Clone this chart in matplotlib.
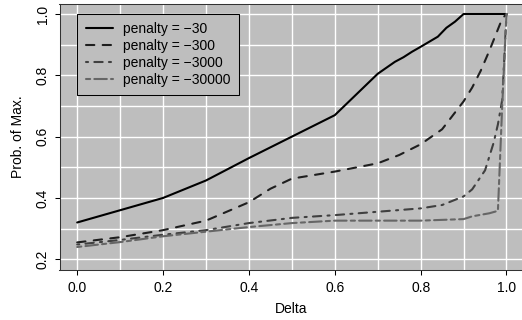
import numpy as np
import matplotlib
matplotlib.use("Agg")
import matplotlib.pyplot as plt

plt.rcParams['font.family'] = ['Liberation Sans', 'DejaVu Sans']
plt.rcParams['font.size'] = 10

# data
delta_1 = [0.0, 0.1, 0.2, 0.3, 0.4, 0.5, 0.6, 0.7, 0.74, 0.76, 0.78, 0.8, 0.84, 0.86, 0.88, 0.9, 1.0]
prob_1 = [0.32, 0.36, 0.40, 0.457, 0.53, 0.60, 0.67, 0.805, 0.844, 0.859, 0.877, 0.893, 0.926, 0.955, 0.975, 1.0, 1.0]

delta_2 = [0.0, 0.1, 0.2, 0.3, 0.4, 0.45, 0.5, 0.6, 0.7, 0.75, 0.8, 0.85, 0.9, 0.92, 0.94, 0.96, 0.98, 0.99, 1.0]
prob_2 = [0.255, 0.272, 0.295, 0.326, 0.386, 0.43, 0.463, 0.486, 0.513, 0.54, 0.575, 0.624, 0.715, 0.76, 0.815, 0.88, 0.95, 0.985, 1.0]

delta_3 = [0.0, 0.1, 0.2, 0.3, 0.4, 0.5, 0.6, 0.7, 0.8, 0.85, 0.9, 0.92, 0.95, 0.97, 0.98, 0.99, 1.0]
prob_3 = [0.248, 0.263, 0.28, 0.295, 0.318, 0.335, 0.344, 0.355, 0.366, 0.377, 0.405, 0.428, 0.49, 0.58, 0.64, 0.72, 1.0]

delta_4 = [0.0, 0.1, 0.2, 0.3, 0.4, 0.5, 0.6, 0.7, 0.8, 0.9, 0.92, 0.96, 0.98, 0.99, 1.0]
prob_4 = [0.24, 0.256, 0.275, 0.29, 0.305, 0.318, 0.326, 0.326, 0.326, 0.331, 0.34, 0.35, 0.358, 0.70, 1.0]

labels = ['penalty = \u221230', 'penalty = \u2212300', 'penalty = \u22123000', 'penalty = \u221230000']
colors = ['#000000', '#1e1e1e', '#404040', '#666666']
dashes = [None, (4, 4), (1, 3, 4, 3), (2, 2, 6, 2)]

fig = plt.figure(figsize=(5.22, 3.2), dpi=100)
W, H = 522.0, 320.0
ax = fig.add_axes([59.5 / W, (H - 270) / H, (523.2 - 59.5) / W, (270 - 4.2) / H])
ax.set_facecolor('#BEBEBE')

series = [(delta_1, prob_1), (delta_2, prob_2), (delta_3, prob_3), (delta_4, prob_4)]
for (x, y), lab, c, d in zip(series, labels, colors, dashes):
    line, = ax.plot(x, y, color=c, lw=1.5, label=lab,
                    solid_capstyle='round', dash_capstyle='round')
    if d is not None:
        line.set_dashes(d)

ax.set_xlim(-0.0412, 1.0389)
ax.set_ylim(0.165, 1.032)
ax.set_xticks(np.arange(0, 1.01, 0.2))
ax.set_xticks(np.arange(0, 1.01, 0.1), minor=True)
ax.set_yticks(np.arange(0.2, 1.01, 0.2))
ax.set_yticks(np.arange(0.2, 1.01, 0.1), minor=True)
ax.set_xticklabels(['0.0', '0.2', '0.4', '0.6', '0.8', '1.0'])
ax.set_yticklabels(['0.2', '0.4', '0.6', '0.8', '1.0'], rotation=90, va='center')
ax.grid(True, which='both', color='white', lw=1.0)
ax.set_axisbelow(True)
ax.tick_params(which='major', direction='out', length=3.6, width=0.75, pad=4.5)
ax.tick_params(axis='y', which='major', pad=3.5)
ax.tick_params(which='minor', length=0)
for s in ax.spines.values():
    s.set_linewidth(0.75)
    s.set_color('#333333')

ax.set_xlabel('Delta', labelpad=5)
ax.set_ylabel('Prob. of Max.', labelpad=8)

leg = ax.legend(loc='upper left', bbox_to_anchor=(0.0, 1.0), bbox_transform=ax.transData,
                borderaxespad=0, frameon=True, fancybox=False, framealpha=1,
                facecolor='#BEBEBE', edgecolor='black', handlelength=2.0,
                handletextpad=0.7, labelspacing=0.2, borderpad=0.6)
leg.get_frame().set_linewidth(0.75)

fig.savefig('out.png', dpi=100)
